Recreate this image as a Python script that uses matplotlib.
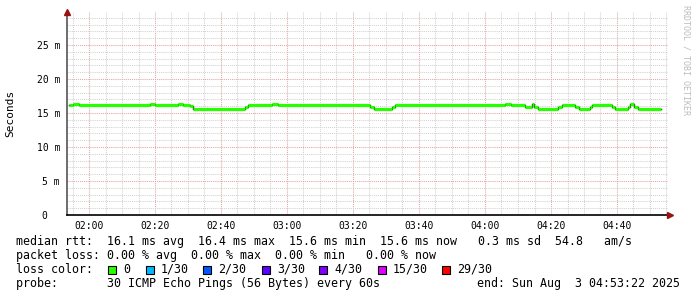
import matplotlib
matplotlib.use('Agg')
import matplotlib.pyplot as plt
from matplotlib.patches import Rectangle

# median rtt (ms), step changes
times = ['01:54:00', '01:55:00', '01:57:00', '02:18:30', '02:20:00', '02:27:00',
         '02:28:30', '02:30:30', '02:31:30', '02:47:20', '02:48:10', '02:55:30',
         '02:57:20', '03:25:10', '03:26:20', '03:31:50', '03:32:40', '04:06:00',
         '04:08:00', '04:12:00', '04:14:10', '04:14:50', '04:16:00', '04:22:00',
         '04:23:20', '04:27:20', '04:28:30', '04:31:50', '04:32:30', '04:38:30',
         '04:39:30', '04:43:20', '04:44:00', '04:45:10', '04:46:20', '04:53:22']
median_ms = [16.2, 16.35, 16.2, 16.35, 16.2, 16.35,
             16.2, 16.0, 15.6, 15.9, 16.2, 16.3,
             16.2, 15.9, 15.6, 15.9, 16.2, 16.3,
             16.2, 15.9, 16.3, 15.9, 15.6, 15.9,
             16.2, 15.9, 15.6, 15.9, 16.2, 15.9,
             15.6, 15.9, 16.3, 15.9, 15.6, 15.6]

x_ticks = ['02:00', '02:20', '02:40', '03:00', '03:20', '03:40', '04:00', '04:20', '04:40']
y_ticks = [0, 5, 10, 15, 20, 25]
y_tick_labels = ['0  ', '5 m', '10 m', '15 m', '20 m', '25 m']

loss_labels = ['0', '1/30', '2/30', '3/30', '4/30', '15/30', '29/30']
loss_colors = ['#26ff00', '#00b8ff', '#0059ff', '#5e00ff', '#7e00ff', '#dd00ff', '#ff0000']

legend_lines = [
    'median rtt:  16.1 ms avg  16.4 ms max  15.6 ms min  15.6 ms now   0.3 ms sd  54.8   am/s',
    'packet loss: 0.00 % avg  0.00 % max  0.00 % min   0.00 % now',
    'loss color:',
    'probe:       30 ICMP Echo Pings (56 Bytes) every 60s',
]
end_text = 'end: Sun Aug  3 04:53:22 2025'


def to_min(s):
    parts = [int(p) for p in s.split(':')]
    while len(parts) < 3:
        parts.append(0)
    return parts[0] * 60 + parts[1] + parts[2] / 60.0


W, H = 697, 297
MONO = 'DejaVu Sans Mono'
fig = plt.figure(figsize=(W / 100, H / 100), dpi=100)
fig.patch.set_facecolor('white')


def fx(px):
    return px / W


def fy(py):
    return 1 - py / H


ax = fig.add_axes([fx(67), fy(215), (668 - 67) / W, (215 - 12) / H])
x0 = 120 - 22 / 3.3
x1 = 120 + (668 - 89) / 3.3
ax.set_xlim(x0, x1)
ax.set_ylim(0, 29.85)

# grid
for m in range(115, 296, 5):
    major = m % 20 == 0
    ax.axvline(m, color='#e4a4a4' if major else '#d2d2d2', lw=0.75,
               ls=(0, (1, 1)), zorder=1)
for v in range(1, 30):
    major = v % 5 == 0
    ax.axhline(v, color='#e4a4a4' if major else '#d2d2d2', lw=0.75,
               ls=(0, (1, 1)), zorder=1)

# median line: dark step connectors under green segments
tx = [to_min(t) for t in times]
ax.step(tx, median_ms, where='post', color='#202020', lw=1.0, zorder=3)
ax.hlines(median_ms[:-1], tx[:-1], tx[1:], color=loss_colors[0], lw=2.3, zorder=4)

ax.set_xticks([to_min(t) for t in x_ticks])
ax.set_xticklabels(x_ticks, fontfamily=MONO, fontsize=7)
ax.set_yticks(y_ticks)
ax.set_yticklabels(y_tick_labels, fontfamily=MONO, fontsize=7)
ax.tick_params(axis='both', length=0)
ax.tick_params(axis='x', pad=4)
ax.tick_params(axis='y', pad=5)

for s in ['top', 'right']:
    ax.spines[s].set_visible(False)
ax.spines['left'].set_color('#555555')
ax.spines['left'].set_linewidth(1.2)
ax.spines['bottom'].set_color('black')
ax.spines['bottom'].set_linewidth(1.2)

# axis arrows
ax.plot([x0], [29.85], marker='^', color='#991111', ms=4, clip_on=False, zorder=5)
ax.plot([x1 + 0.6], [0], marker='>', color='#991111', ms=4, clip_on=False, zorder=5)

fig.text(fx(10), fy(113), 'Seconds', rotation=90, ha='center', va='center',
         fontfamily=MONO, fontsize=8)
fig.text(fx(686), fy(5), 'RRDTOOL / TOBI OETIKER', rotation=-90, ha='center', va='top',
         fontfamily=MONO, fontsize=6, color='#bdbdbd')

line_y = [241.5, 255.5, 269.5, 283.5]
for y, txt in zip(line_y, legend_lines):
    fig.text(fx(16), fy(y), txt, ha='left', va='center', fontfamily=MONO, fontsize=8.4)
fig.text(fx(680), fy(line_y[3]), end_text, ha='right', va='center',
         fontfamily=MONO, fontsize=8.4)

box_x = [108, 146, 203, 262, 319, 378, 442]
for bx, lab, col in zip(box_x, loss_labels, loss_colors):
    fig.patches.append(Rectangle((fx(bx), fy(273.5)), 8 / W, 8 / H, facecolor=col,
                                 edgecolor='black', lw=0.8, transform=fig.transFigure,
                                 figure=fig))
    fig.text(fx(bx + 15), fy(line_y[2]), lab, ha='left', va='center',
             fontfamily=MONO, fontsize=8.4)

fig.savefig('out.png', dpi=100)
